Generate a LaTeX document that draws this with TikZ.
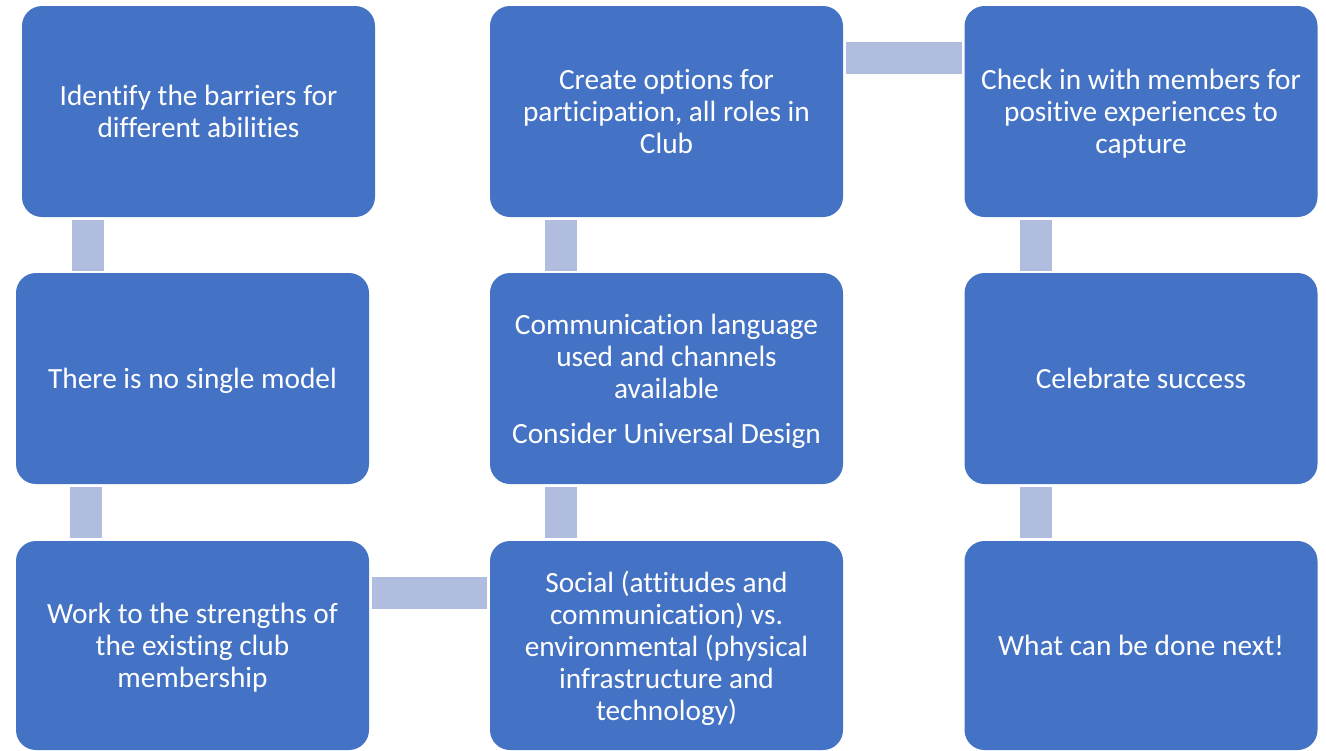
\documentclass[tikz,border=0pt]{standalone}
\usepackage{fontspec}
\setmainfont{Carlito}[Ligatures=NoCommon]
\usetikzlibrary{calc}
\definecolor{boxblue}{HTML}{4472C4}
\definecolor{connblue}{HTML}{B0BDDF}
\tikzset{
  stepbox/.style={fill=boxblue, draw=none, rounded corners=15pt, text=white,
    align=center, font=\fontsize{22pt}{24pt}\selectfont, inner sep=0pt, text depth=0pt},
  colbox/.style={stepbox, minimum width=264.75pt, minimum height=158.25pt},
  lowbox/.style={stepbox, minimum width=264.75pt, minimum height=156.75pt},
  conn/.style={draw=connblue, line width=24pt, line cap=butt},
}
\begin{document}
\begin{tikzpicture}[x=0.75pt,y=-0.75pt]
\useasboundingbox (0,0) rectangle (1326,750);
% column 1
\node[colbox] (b1) at (198.5,111.5) {Identify the barriers for\\different abilities};
\node[colbox] (b2) at (192.5,378.5) {There is no single model};
\node[lowbox] (b3) at (192.5,645.5) {Work to the strengths of\\the existing club\\membership};
% column 2
\node[colbox] (b4) at (666.5,111.5) {Create options for\\participation, all roles in\\Club};
\node[colbox] (b5) at (666.5,378.5) {Communication language\\used and channels\\available\\[9.75pt]Consider Universal Design};
\node[lowbox] (b6) at (666.5,645.5) {Social (attitudes and\\communication) vs.\\environmental (physical\\infrastructure and\\technology)};
% column 3
\node[colbox] (b7) at (1141,111.5) {Check in with members for\\positive experiences to\\capture};
\node[colbox] (b8) at (1141,378.5) {Celebrate success};
\node[lowbox] (b9) at (1141,645.5) {What can be done next!};
% connectors
\draw[conn] ($(b1.south west)+(66,3)$) -- ($(b2.north west)+(72,-2)$);
\draw[conn] ($(b2.south west)+(70,3)$) -- ($(b3.north west)+(70,-3)$);
\draw[conn] ($(b3.east)+(3,-52.5)$) -- ($(b6.west)+(-3,-52.5)$);
\draw[conn] ($(b6.north west)+(71,-3)$) -- ($(b5.south west)+(71,3)$);
\draw[conn] ($(b5.north west)+(71,-2)$) -- ($(b4.south west)+(71,3)$);
\draw[conn] ($(b4.east)+(3,-54)$) -- ($(b7.west)+(-2,-54)$);
\draw[conn] ($(b7.south west)+(71.5,3)$) -- ($(b8.north west)+(71.5,-2)$);
\draw[conn] ($(b8.south west)+(71.5,3)$) -- ($(b9.north west)+(71.5,-3)$);
\end{tikzpicture}
\end{document}
